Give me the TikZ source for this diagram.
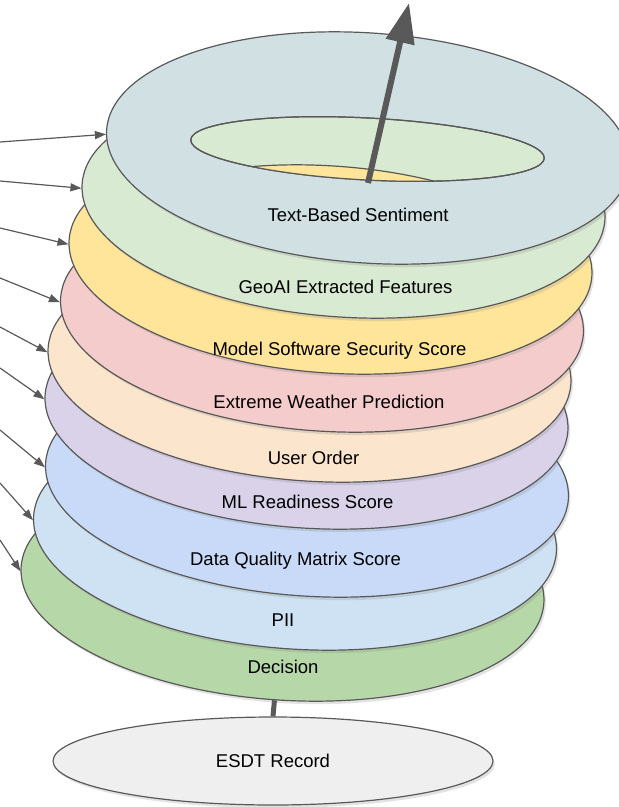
\documentclass[tikz,border=0pt]{standalone}
\usepackage{fontspec}
\setmainfont{Liberation Sans}
\usetikzlibrary{shapes.geometric,arrows.meta,shadows}
\definecolor{lc}{HTML}{595959}
\definecolor{cTop}{HTML}{D0E0E3}
\definecolor{cGeo}{HTML}{D9EAD3}
\definecolor{cYel}{HTML}{FFE599}
\definecolor{cPink}{HTML}{F4CCCC}
\definecolor{cPeach}{HTML}{FCE5CD}
\definecolor{cLav}{HTML}{D9D2E9}
\definecolor{cBlue}{HTML}{C9DAF8}
\definecolor{cLBlue}{HTML}{CFE2F3}
\definecolor{cDec}{HTML}{B6D7A8}
\definecolor{cRec}{HTML}{EFEFEF}
\begin{document}
\begin{tikzpicture}[x=1pt,y=-1pt,
  disc/.style={ellipse, draw=lc, line width=1.2pt, minimum width=524pt, minimum height=230pt,
    inner sep=0pt, rotate=-4, drop shadow={shadow xshift=2pt, shadow yshift=-3pt, opacity=0.22}},
  lab/.style={font=\fontsize{18.5}{22}\selectfont, text=black, inner sep=0pt, text height=13.2pt, text depth=0pt},
  feed/.style={draw=lc, line width=1.2pt, -{Triangle[length=11pt,width=8pt]}}]
\useasboundingbox (0,0) rectangle (619,807);

% record at the bottom
\node[ellipse, draw=lc, line width=1.2pt, fill=cRec, minimum width=440pt, minimum height=88pt,
  inner sep=0pt, drop shadow={shadow xshift=2pt, shadow yshift=-3pt, opacity=0.22},
  font=\fontsize{18.5}{22}\selectfont] (rec) at (273,761) {ESDT Record};

% stacked discs, bottom to top
\node[disc, fill=cDec]   (e9) at (282.5,585) {};
\node[disc, fill=cLBlue] (e8) at (295,534) {};
\node[disc, fill=cBlue]  (e7) at (307,481) {};
\node[disc, fill=cLav]   (e6) at (306.5,413) {};
\node[disc, fill=cPeach] (e5) at (309.5,366) {};
\node[disc, fill=cPink]  (e4) at (322,316) {};
\node[disc, fill=cYel]   (e3) at (330.5,258) {};
\node[disc, fill=cGeo]   (e2) at (343.5,202) {};
\node[disc, fill=cTop]   (e1) at (368,148) {};

% hole of the top ring
\node[ellipse, draw=lc, line width=1.2pt, fill=cGeo, minimum width=354pt, minimum height=62pt,
  inner sep=0pt, rotate=-3] (hole) at (367.5,149) {};
\begin{scope}
  \clip[rotate around={-3:(367.5,149)}] (367.5,149) ellipse [x radius=177pt, y radius=31pt];
  \fill[cYel, draw=lc, line width=1.2pt, rotate around={-4:(330,281)}] (330,281) ellipse [x radius=262pt, y radius=115pt];
\end{scope}
\draw[lc, line width=1.2pt, rotate around={-3:(367.5,149)}] (367.5,149) ellipse [x radius=177pt, y radius=31pt];

% link from decision to record
\draw[lc, line width=5pt] (e9.south) -- (rec.north);

% big output arrow
\coordinate (ab) at (368,183);
\coordinate (at) at (409,3);
\draw[lc, line width=6pt, -{Triangle[length=40pt,width=28pt]}] (ab) -- (at);

% feeding arrows
\coordinate (s1) at (0,142);
\coordinate (s2) at (0,181);
\coordinate (s3) at (0,228);
\coordinate (s4) at (0,278);
\coordinate (s5) at (0,327);
\coordinate (s6) at (0,368);
\coordinate (s7) at (0,430);
\coordinate (s8) at (0,483);
\coordinate (s9) at (0,540);
\draw[feed] (s1) -- (e1.181);
\draw[feed] (s2) -- (e2.181);
\draw[feed] (s3) -- (e3.181);
\draw[feed] (s4) -- (e4.181);
\draw[feed] (s5) -- (e5.181);
\draw[feed] (s6) -- (e6.181);
\draw[feed] (s7) -- (e7.181);
\draw[feed] (s8) -- (e8.181);
\draw[feed] (s9) -- (e9.181);

% labels
\node[lab] (l1) at (358,214.5) {Text-Based Sentiment};
\node[lab] (l2) at (345.5,287) {GeoAI Extracted Features};
\node[lab] (l3) at (339.5,348.5) {Model Software Security Score};
\node[lab] (l4) at (329,401.5) {Extreme Weather Prediction};
\node[lab] (l5) at (313.5,457.5) {User Order};
\node[lab] (l6) at (307.5,501.5) {ML Readiness Score};
\node[lab] (l7) at (295.5,558.5) {Data Quality Matrix Score};
\node[lab] (l8) at (283,620) {PII};
\node[lab] (l9) at (283,667) {Decision};
\end{tikzpicture}
\end{document}
